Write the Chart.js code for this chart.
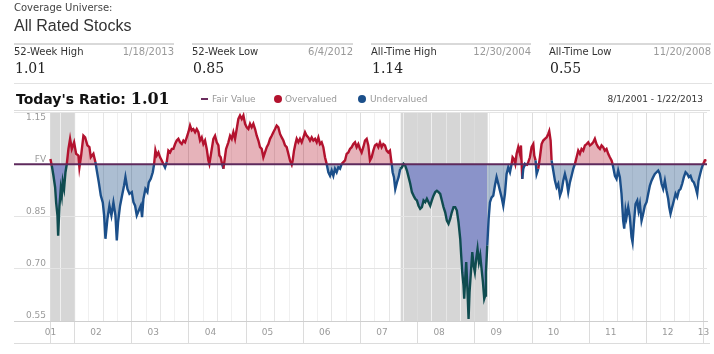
<!DOCTYPE html>
<html>
<head>
<meta charset="utf-8">
<script src="https://cdn.jsdelivr.net/npm/chart.js@4.4.1/dist/chart.umd.min.js"></script>
<style>
  html, body { margin: 0; padding: 0; background: #fff; }
  body { width: 714px; height: 354px; position: relative; overflow: hidden;
         font-family: "DejaVu Sans", Verdana, sans-serif; color: #333; }
  #chart { position: absolute; left: 0; top: 0; }
  .abs { position: absolute; white-space: nowrap; z-index: 2; }
  .cov { left: 14px; top: 2px; font-size: 10px; line-height: 12px; color: #444; }
  .title { left: 14px; top: 17px; font: 16px "Liberation Sans", Arial, sans-serif; line-height: 18px; color: #333; }
  .stat { position: absolute; top: 43px; height: 38px; border-top: 2px solid #d9d9d9; z-index: 2; }
  .stat .lbl { position: absolute; left: 0; top: 1px; font-size: 10px; line-height: 12px; color: #333; }
  .stat .date { position: absolute; right: 0; top: 1px; font-size: 10px; line-height: 12px; color: #999; }
  .stat .val { position: absolute; left: 1px; top: 14px; font: 14px "DejaVu Serif", Georgia, serif; line-height: 18px; color: #222; }
  .rule { position: absolute; height: 1px; background: #e2e2e2; z-index: 2; }
  .ratio { left: 16px; top: 89px; font-weight: bold; font-size: 14px; line-height: 20px; color: #111; }
  .ratio span { font: bold 16px "DejaVu Serif", Georgia, serif; }
  .leg { top: 93px; font-size: 9px; line-height: 12px; color: #999; }
  .dash { position: absolute; left: 201px; top: 98px; width: 7px; height: 2px; background: #6b2d5f; z-index: 2; }
  .dot { position: absolute; top: 95px; width: 8px; height: 8px; border-radius: 50%; z-index: 2; }
  .range { right: 11px; top: 93px; font-size: 9px; line-height: 12px; color: #333; }
</style>
</head>
<body>
<div class="abs cov">Coverage Universe:</div>
<div class="abs title">All Rated Stocks</div>

<div class="stat" style="left:14px;width:160px"><div class="lbl">52-Week High</div><div class="date">1/18/2013</div><div class="val">1.01</div></div>
<div class="stat" style="left:192px;width:161px"><div class="lbl">52-Week Low</div><div class="date">6/4/2012</div><div class="val">0.85</div></div>
<div class="stat" style="left:371px;width:160px"><div class="lbl">All-Time High</div><div class="date">12/30/2004</div><div class="val">1.14</div></div>
<div class="stat" style="left:549px;width:162px"><div class="lbl">All-Time Low</div><div class="date">11/20/2008</div><div class="val">0.55</div></div>
<div class="rule" style="left:14px;top:83px;width:698px"></div>

<div class="abs ratio">Today's Ratio: <span>1.01</span></div>
<div class="dash"></div>
<div class="abs leg" style="left:212px">Fair Value</div>
<div class="dot" style="left:274px;background:#b3122e"></div>
<div class="abs leg" style="left:285px">Overvalued</div>
<div class="dot" style="left:358px;background:#1b4f8a"></div>
<div class="abs leg" style="left:370px">Undervalued</div>
<div class="abs range">8/1/2001 - 1/22/2013</div>
<div class="rule" style="left:14px;top:110px;width:696px;background:#dcdcdc"></div>
<div class="rule" style="left:14px;top:343px;width:696px;background:#dcdcdc"></div>

<canvas id="chart" width="714" height="354"></canvas>

<script>
// Price / fair value ratio (decimal years)
const ratioDates = [
  2001.577, 2001.601, 2001.630, 2001.659, 2001.677, 2001.700, 2001.712, 2001.735, 2001.758, 2001.776,
  2001.793, 2001.816, 2001.840, 2001.863, 2001.892, 2001.921, 2001.951, 2001.991, 2002.026, 2002.067,
  2002.084, 2002.114, 2002.154, 2002.184, 2002.224, 2002.259, 2002.283, 2002.329, 2002.364, 2002.388,
  2002.423, 2002.458, 2002.493, 2002.516, 2002.539, 2002.574, 2002.609, 2002.644, 2002.679, 2002.714,
  2002.738, 2002.760, 2002.795, 2002.830, 2002.865, 2002.889, 2002.924, 2002.959, 2003.000, 2003.029,
  2003.058, 2003.087, 2003.122, 2003.157, 2003.180, 2003.203, 2003.238, 2003.273, 2003.297, 2003.332,
  2003.367, 2003.390, 2003.413,
  2003.437, 2003.466, 2003.495, 2003.524, 2003.553, 2003.582, 2003.611, 2003.640, 2003.670, 2003.699,
  2003.728, 2003.757, 2003.786, 2003.815, 2003.844, 2003.874, 2003.903, 2003.932, 2003.961, 2003.990,
  2004.019, 2004.048, 2004.077, 2004.107, 2004.136, 2004.165, 2004.194, 2004.223, 2004.252, 2004.281,
  2004.311, 2004.340, 2004.357, 2004.381, 2004.404, 2004.427, 2004.456, 2004.486, 2004.515, 2004.532,
  2004.555, 2004.579, 2004.602, 2004.625, 2004.649, 2004.689, 2004.719, 2004.748, 2004.777, 2004.806,
  2004.835, 2004.864, 2004.893, 2004.923,
  2004.952, 2004.981, 2005.010, 2005.039, 2005.068, 2005.097, 2005.126, 2005.156, 2005.185, 2005.214,
  2005.243, 2005.272, 2005.301, 2005.330, 2005.360, 2005.389, 2005.418, 2005.447, 2005.476, 2005.505,
  2005.534, 2005.563, 2005.593, 2005.622, 2005.651, 2005.680, 2005.709, 2005.738, 2005.767, 2005.797,
  2005.814, 2005.837, 2005.861, 2005.884, 2005.913, 2005.942, 2005.971, 2006.001, 2006.030, 2006.059,
  2006.088, 2006.117, 2006.146, 2006.175, 2006.205, 2006.234, 2006.263, 2006.292, 2006.321, 2006.350,
  2006.379, 2006.408, 2006.438, 2006.467, 2006.496, 2006.525, 2006.554, 2006.583, 2006.612, 2006.642,
  2006.671, 2006.700, 2006.729, 2006.758, 2006.787, 2006.816, 2006.846, 2006.875, 2006.904, 2006.933,
  2006.962, 2006.991, 2007.020, 2007.049, 2007.079, 2007.108, 2007.137, 2007.166, 2007.195, 2007.224,
  2007.253, 2007.283, 2007.312, 2007.341, 2007.370, 2007.399, 2007.428, 2007.457, 2007.486, 2007.515,
  2007.545, 2007.562, 2007.585, 2007.608, 2007.637, 2007.666, 2007.695, 2007.724, 2007.753, 2007.782,
  2007.812, 2007.841, 2007.870, 2007.899, 2007.928, 2007.957, 2007.986, 2008.015, 2008.044, 2008.074,
  2008.103, 2008.132, 2008.161, 2008.190, 2008.219, 2008.248, 2008.277, 2008.307, 2008.336, 2008.365,
  2008.394, 2008.423, 2008.452, 2008.481, 2008.510, 2008.539, 2008.568, 2008.597, 2008.627, 2008.656,
  2008.685,
  2008.714, 2008.744, 2008.761, 2008.779, 2008.802, 2008.814, 2008.831, 2008.849, 2008.872, 2008.890,
  2008.907, 2008.931, 2008.955, 2008.977, 2009.000, 2009.024, 2009.047, 2009.071, 2009.094, 2009.117,
  2009.141, 2009.164, 2009.181, 2009.194, 2009.217, 2009.241, 2009.264, 2009.293, 2009.322, 2009.351,
  2009.380,
  2009.410, 2009.439, 2009.468, 2009.497, 2009.526, 2009.555, 2009.584, 2009.614, 2009.643, 2009.660,
  2009.684, 2009.707, 2009.730, 2009.759, 2009.788, 2009.806, 2009.829, 2009.847, 2009.876, 2009.905,
  2009.934, 2009.963, 2009.992, 2010.022, 2010.039, 2010.062, 2010.080, 2010.109, 2010.138, 2010.167,
  2010.196, 2010.225, 2010.254, 2010.283, 2010.301, 2010.325, 2010.342, 2010.371, 2010.400, 2010.429,
  2010.458, 2010.488, 2010.517, 2010.546, 2010.575, 2010.604, 2010.633, 2010.662, 2010.692, 2010.721,
  2010.750, 2010.779, 2010.808, 2010.837, 2010.866, 2010.895, 2010.925, 2010.954, 2010.983, 2011.012,
  2011.041, 2011.070, 2011.099, 2011.128, 2011.158, 2011.187, 2011.216, 2011.245, 2011.274, 2011.303,
  2011.332, 2011.361, 2011.391, 2011.408, 2011.431, 2011.449, 2011.478, 2011.507, 2011.536, 2011.565,
  2011.594, 2011.612, 2011.635, 2011.653, 2011.682, 2011.711, 2011.740, 2011.758, 2011.781, 2011.810,
  2011.840, 2011.863, 2011.886, 2011.915, 2011.944, 2011.973, 2012.003, 2012.032, 2012.061, 2012.090,
  2012.119, 2012.148, 2012.177, 2012.207, 2012.236, 2012.265, 2012.294, 2012.323, 2012.352, 2012.381,
  2012.399, 2012.422, 2012.451, 2012.481, 2012.510, 2012.539, 2012.568, 2012.597, 2012.626, 2012.655,
  2012.685, 2012.714, 2012.743, 2012.772, 2012.801, 2012.830, 2012.860, 2012.889, 2012.912, 2012.933,
  2012.964, 2012.993, 2013.022, 2013.050
];
const ratioValues = [
  1.015, 0.996, 0.967, 0.934, 0.890, 0.853, 0.795, 0.880, 0.930, 0.910,
  0.950, 0.930, 0.977, 1.000, 1.044, 1.073, 1.044, 1.063, 1.030, 1.025,
  0.991, 1.025, 1.082, 1.077, 1.054, 1.049, 1.020, 1.030, 1.006, 0.982,
  0.948, 0.910, 0.890, 0.853, 0.786, 0.843, 0.881, 0.853, 0.890, 0.853,
  0.781, 0.834, 0.881, 0.910, 0.939, 0.963, 0.929, 0.915, 0.920, 0.891,
  0.881, 0.853, 0.867, 0.881, 0.848, 0.900, 0.929, 0.920, 0.948, 0.958,
  0.977, 1.000, 1.040,
  1.025, 1.034, 1.020, 1.011, 1.001, 0.991, 1.006, 1.039, 1.034, 1.044,
  1.044, 1.058, 1.068, 1.073, 1.063, 1.058, 1.068, 1.063, 1.077, 1.092,
  1.111, 1.097, 1.101, 1.092, 1.101, 1.092, 1.068, 1.077, 1.058, 1.068,
  1.044, 1.011, 1.001, 1.025, 1.049, 1.073, 1.082, 1.063, 1.054, 1.025,
  1.020, 1.001, 0.987, 1.015, 1.044, 1.063, 1.082, 1.073, 1.092, 1.073,
  1.101, 1.130, 1.140, 1.130,
  1.140, 1.116, 1.106, 1.101, 1.116, 1.106, 1.116, 1.101, 1.082, 1.068,
  1.049, 1.044, 1.020, 1.034, 1.049, 1.058, 1.073, 1.082, 1.092, 1.101,
  1.111, 1.106, 1.087, 1.077, 1.068, 1.054, 1.049, 1.030, 1.011, 0.999,
  1.011, 1.039, 1.058, 1.073, 1.063, 1.073, 1.063, 1.077, 1.092, 1.082,
  1.077, 1.068, 1.077, 1.068, 1.073, 1.063, 1.077, 1.058, 1.063, 1.049,
  1.020, 1.001, 0.977, 0.967, 0.982, 0.967, 0.987, 0.977, 0.991, 0.987,
  1.001, 1.006, 1.011, 1.030, 1.034, 1.044, 1.049, 1.058, 1.063, 1.049,
  1.058, 1.044, 1.034, 1.049, 1.068, 1.073, 1.054, 1.011, 1.020, 1.039,
  1.054, 1.058, 1.049, 1.063, 1.049, 1.058, 1.054, 1.039, 1.034, 1.039,
  1.001, 0.977, 0.963, 0.929, 0.948, 0.963, 0.987, 0.991, 1.001, 0.996,
  0.982, 0.963, 0.944, 0.920, 0.910, 0.901, 0.896, 0.881, 0.872, 0.877,
  0.896, 0.891, 0.901, 0.891, 0.881, 0.896, 0.910, 0.920, 0.924, 0.920,
  0.915, 0.896, 0.877, 0.862, 0.838, 0.829, 0.843, 0.862, 0.877, 0.877,
  0.867,
  0.834, 0.786, 0.738, 0.690, 0.652, 0.614, 0.671, 0.719, 0.633, 0.556,
  0.633, 0.690, 0.748, 0.710, 0.690, 0.729, 0.757, 0.719, 0.738, 0.700,
  0.662, 0.614, 0.623, 0.690, 0.767, 0.843, 0.891, 0.905, 0.910, 0.939,
  0.963,
  0.944, 0.924, 0.905, 0.881, 0.915, 0.972, 0.991, 0.977, 1.001, 1.020,
  1.015, 1.001, 1.030, 1.049, 1.030, 1.054, 0.958, 0.987, 1.001, 0.996,
  1.006, 1.020, 1.049, 1.058, 1.025, 1.011, 0.972, 0.987, 1.020, 1.058,
  1.068, 1.073, 1.077, 1.087, 1.095, 1.068, 1.011, 0.982, 0.953, 0.934,
  0.944, 0.910, 0.924, 0.953, 0.972, 0.953, 0.920, 0.948, 0.967, 0.987,
  1.001, 1.020, 1.039, 1.030, 1.044, 1.039, 1.054, 1.058, 1.063, 1.054,
  1.058, 1.063, 1.073, 1.058, 1.049, 1.044, 1.054, 1.049, 1.039, 1.044,
  1.030, 1.020, 1.011, 1.001, 0.982, 0.967, 0.958, 0.982, 0.963, 0.915,
  0.838, 0.815, 0.867, 0.848, 0.877, 0.848, 0.791, 0.776, 0.829, 0.886,
  0.896, 0.867, 0.886, 0.838, 0.858, 0.881, 0.891, 0.915, 0.939, 0.953,
  0.963, 0.972, 0.977, 0.982, 0.972, 0.944, 0.929, 0.953, 0.924, 0.901,
  0.877, 0.858, 0.877, 0.896, 0.915, 0.905, 0.924, 0.929, 0.944, 0.963,
  0.977, 0.972, 0.963, 0.967, 0.953, 0.948, 0.934, 0.915, 0.953, 0.967,
  0.987, 1.001, 1.011, 1.012
];

// recession shading (decimal years)
const bandStart = [2001.572, 2007.703];
const bandEnd = [2002.009, 2009.224];

// axes
const X_MIN = 2000.94;
const X_MAX = 2013.06;
const yearLabels = ["01", "02", "03", "04", "05", "06", "07", "08", "09", "10", "11", "12", "13"];
const yearLabelPos = [2001.58, 2002.375, 2003.375, 2004.375, 2005.375, 2006.375, 2007.375,
  2008.375, 2009.375, 2010.375, 2011.375, 2012.375, 2013.0];
const yTickValues = [0.55, 0.70, 0.85, 1.00, 1.15];
const yTickLabels = ["0.55", "0.70", "0.85", "FV", "1.15"];

const RED = "#b3122e";
const BLUE = "#1b4f8a";
const TEAL = "#0f4c50";
const FV_COLOR = "#5e2a5c";
const PINK_FILL = "rgba(176,20,40,0.32)";
const BLUE_FILL = "rgba(29,79,134,0.37)";
const BAND_FILL = "#8a93c9";

const near = (a, b) => Math.abs(a - b) < 1e-4;
const inBand = (x) => bandStart.some((s, i) => x >= s && x <= bandEnd[i]);

const mainPts = ratioDates.map((d, i) => ({ x: d, y: ratioValues[i] }));
const bandPts = [];
bandStart.forEach((s, i) => {
  mainPts.forEach((p) => {
    if (p.x >= s && p.x <= bandEnd[i]) bandPts.push({ x: p.x, y: p.y });
  });
  bandPts.push({ x: bandEnd[i] + 0.001, y: null });
});

// quarterly grid + label positions
const xTickValues = [];
for (let q = 2001.75; q <= 2013.0001; q += 0.25) xTickValues.push(Math.round(q * 100) / 100);
yearLabelPos.forEach((p) => { if (!xTickValues.some((v) => near(v, p))) xTickValues.push(p); });
xTickValues.sort((a, b) => a - b);

function xGridColor(v) {
  const f = v - Math.floor(v + 1e-6);
  if (Math.abs(f) < 1e-4) return "#dcdcdc";
  if (near(f, 0.5)) return "#e6e6e6";
  if (near(f, 0.25) || near(f, 0.75)) return "#f0f0f0";
  return "rgba(0,0,0,0)";
}
function xTickColor(v) {
  const f = v - Math.floor(v + 1e-6);
  if (Math.abs(f) < 1e-4 || near(v, yearLabelPos[0])) return "#dcdcdc";
  return "rgba(0,0,0,0)";
}

const bandPlugin = {
  id: "recessions",
  beforeDraw(chart) {
    const { ctx, chartArea: a, scales: { x } } = chart;
    ctx.save();
    ctx.fillStyle = "#d6d6d6";
    bandStart.forEach((s, i) => {
      const x0 = x.getPixelForValue(s);
      const x1 = x.getPixelForValue(bandEnd[i]);
      ctx.fillRect(x0, a.top, x1 - x0, a.bottom - a.top);
    });
    ctx.restore();
  },
};

Chart.defaults.font.family = "'DejaVu Sans', Verdana, sans-serif";

new Chart(document.getElementById("chart"), {
  type: "line",
  data: {
    datasets: [
      {
        label: "Fair Value",
        data: [{ x: X_MIN, y: 1 }, { x: X_MAX, y: 1 }],
        borderColor: FV_COLOR,
        borderWidth: 2,
        pointRadius: 0,
        fill: false,
      },
      {
        label: "Recession",
        data: bandPts,
        borderColor: "rgba(0,0,0,0)",
        borderWidth: 0,
        pointRadius: 0,
        fill: { target: { value: 1 }, above: "rgba(0,0,0,0)", below: BAND_FILL },
      },
      {
        label: "Ratio",
        data: mainPts,
        borderColor: BLUE,
        borderWidth: 2.4,
        pointRadius: 0,
        tension: 0,
        fill: { target: { value: 1 }, above: PINK_FILL, below: BLUE_FILL },
        segment: {
          borderColor: (ctx) => {
            const y = (ctx.p0.parsed.y + ctx.p1.parsed.y) / 2;
            if (y >= 1) return RED;
            return inBand((ctx.p0.parsed.x + ctx.p1.parsed.x) / 2) ? TEAL : BLUE;
          },
        },
      },
    ],
  },
  options: {
    responsive: false,
    animation: false,
    devicePixelRatio: 1,
    layout: { padding: { top: 112, left: 2, right: 7, bottom: 11 } },
    plugins: {
      legend: { display: false },
      tooltip: { enabled: false },
      filler: { drawTime: "beforeDatasetsDraw" },
    },
    scales: {
      x: {
        type: "linear",
        min: X_MIN,
        max: X_MAX,
        afterBuildTicks: (scale) => { scale.ticks = xTickValues.map((v) => ({ value: v })); },
        afterFit: (scale) => { scale.height = 22; },
        ticks: {
          autoSkip: false,
          maxRotation: 0,
          minRotation: 0,
          padding: -16,
          color: "#9a9a9a",
          font: { size: 9 },
          callback: (v) => {
            const i = yearLabelPos.findIndex((p) => near(p, v));
            return i < 0 ? "" : yearLabels[i];
          },
        },
        grid: {
          color: (ctx) => xGridColor(ctx.tick.value),
          tickColor: (ctx) => xTickColor(ctx.tick.value),
          tickLength: 22,
          drawTicks: true,
        },
        border: { display: true, color: "#cfcfcf" },
      },
      y: {
        min: 0.55,
        max: 1.15,
        afterBuildTicks: (scale) => { scale.ticks = yTickValues.map((v) => ({ value: v })); },
        afterFit: (scale) => { scale.width = 12; },
        ticks: {
          mirror: true,
          crossAlign: "far",
          padding: 12,
          labelOffset: -5,
          color: "#9a9a9a",
          font: { size: 9 },
          callback: (v) => {
            const i = yTickValues.findIndex((p) => near(p, v));
            if (i < 0) return "";
            // top label sits under its line, the others above
            return i === yTickValues.length - 1 ? ["", "", yTickLabels[i]] : yTickLabels[i];
          },
        },
        grid: {
          drawTicks: false,
          color: (ctx) => (near(ctx.tick.value, 0.55) ? "rgba(0,0,0,0)" : "#e4e4e4"),
        },
        border: { display: false },
      },
    },
  },
  plugins: [bandPlugin],
});
</script>
</body>
</html>
